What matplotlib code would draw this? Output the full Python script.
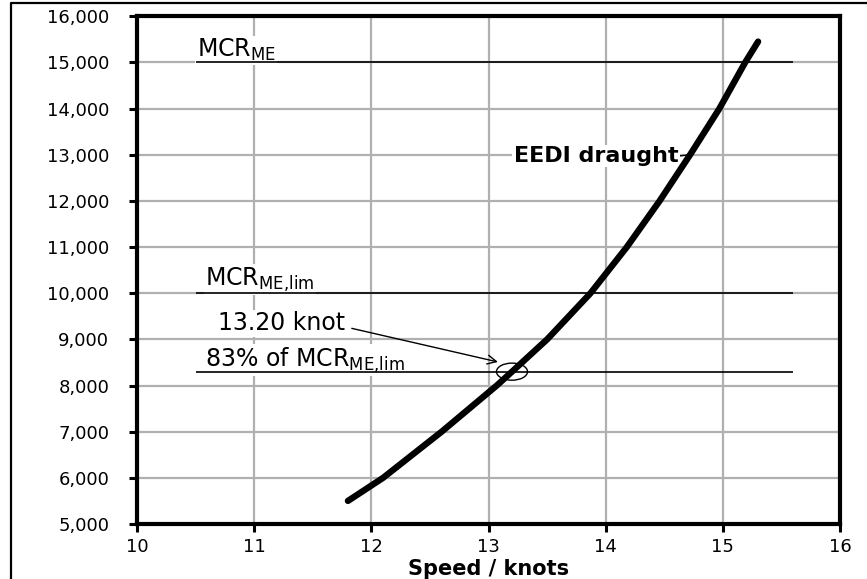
import matplotlib

matplotlib.use("Agg")
import matplotlib.pyplot as plt  # noqa: E402
from matplotlib.lines import Line2D  # noqa: E402
from matplotlib.patches import Ellipse  # noqa: E402
from matplotlib.ticker import MultipleLocator, StrMethodFormatter  # noqa: E402

plt.rcParams["font.family"] = ["DejaVu Sans"]
plt.rcParams["mathtext.default"] = "regular"

# EEDI-draught power curve (speed in knots, power in kW)
speed = [11.8, 12.1, 12.6, 13.07, 13.2, 13.5, 13.87, 14.18, 14.46, 14.72, 14.97, 15.19, 15.3]
power = [5500, 6000, 7000, 8000, 8300, 9000, 10000, 11000, 12000, 13000, 14000, 15000, 15450]

# reference power levels
mcr_me = 15000
mcr_me_lim = 10000
share_lim = 0.83
ref_speed = 13.20
line_span = (10.5, 15.6)

fig = plt.figure(figsize=(8.67, 5.79), dpi=100)
ax = fig.add_axes([0.158, 0.095, 0.811, 0.877])

ax.plot(speed, power, color="black", lw=4.6, solid_capstyle="round",
        solid_joinstyle="round", zorder=5)

p_share = share_lim * mcr_me_lim
for level in (mcr_me, mcr_me_lim, p_share):
    ax.hlines(level, *line_span, color="black", lw=1.2, zorder=4)

lbl = dict(fontsize=17, ha="left", va="baseline", zorder=3,
           bbox=dict(facecolor="white", edgecolor="none", pad=1.0))
ax.text(10.51, mcr_me + 110, "MCR$_{ME}$", **lbl)
ax.text(10.58, mcr_me_lim + 170, "MCR$_{ME{,}lim}$", **lbl)
ax.text(10.58, p_share + 110, "83% of MCR$_{ME{,}lim}$", **lbl)

ax.annotate(f"{ref_speed:.2f} knot", xy=(13.08, 8510), xytext=(10.69, 9350),
            fontsize=17, ha="left", va="center", zorder=3,
            bbox=dict(facecolor="white", edgecolor="none", pad=1.0),
            arrowprops=dict(arrowstyle="->", color="black", lw=1.0,
                            mutation_scale=16, relpos=(1.0, 0.35),
                            shrinkA=4, shrinkB=0))
ax.add_patch(Ellipse((ref_speed, p_share), width=0.265, height=370,
                     fill=False, edgecolor="black", lw=1.0, zorder=6))

ax.annotate("EEDI draught", xy=(14.72, 13000), xytext=(14.62, 12840),
            fontsize=16, fontweight="bold", ha="right", va="baseline", zorder=3,
            bbox=dict(facecolor="white", edgecolor="none", pad=1.0),
            arrowprops=dict(arrowstyle="-", color="black", lw=1.0,
                            relpos=(1.0, 0.5), shrinkA=0, shrinkB=0))

ax.set_xlim(10, 16)
ax.set_ylim(5000, 16000)
ax.xaxis.set_major_locator(MultipleLocator(1))
ax.yaxis.set_major_locator(MultipleLocator(1000))
ax.yaxis.set_major_formatter(StrMethodFormatter("{x:,.0f}"))
ax.grid(True, color="#b0b0b0", lw=1.6)
ax.set_axisbelow(True)
for sp in ax.spines.values():
    sp.set_linewidth(3)
ax.tick_params(axis="both", direction="out", length=6, width=2.2,
               labelsize=13, colors="black")
ax.tick_params(axis="y", pad=14)
ax.tick_params(axis="x", pad=4)
ax.set_xlabel("Speed / knots", fontsize=15, fontweight="bold", labelpad=2)

# frame line along the left and top edge of the figure
fx, fy = 11 / 867, 1 - 2.5 / 579
fig.add_artist(Line2D([fx, fx, 1], [0, fy, fy], transform=fig.transFigure,
                      color="black", lw=1.6))

fig.savefig("out.png", dpi=100)
